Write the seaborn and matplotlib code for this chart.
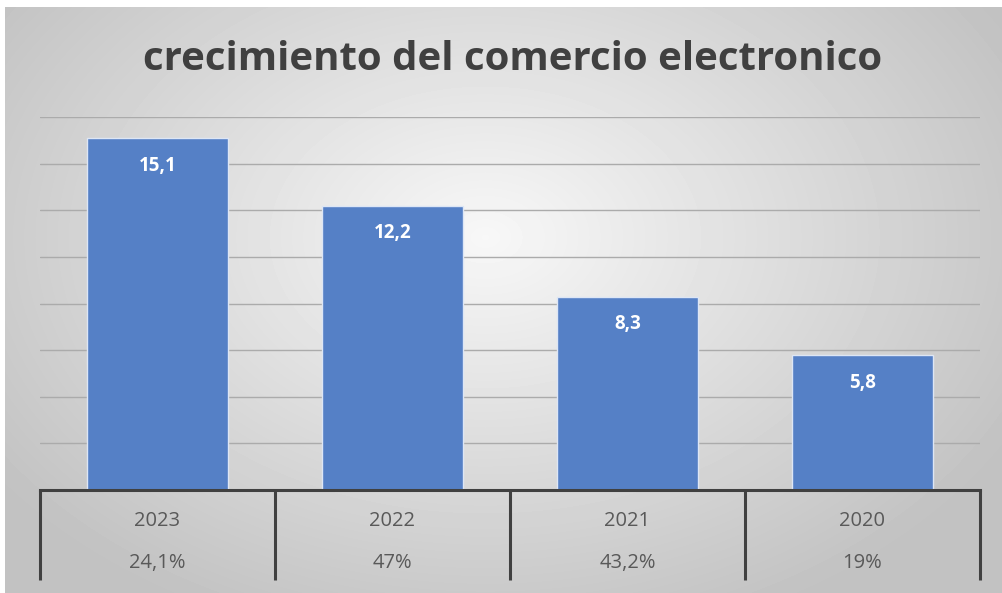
import numpy as np
import pandas as pd
import matplotlib.pyplot as plt
import matplotlib.transforms as mtransforms
import seaborn as sns

# Chart data
years = ["2023", "2022", "2021", "2020"]
values = [15.1, 12.2, 8.3, 5.8]
growth = ["24,1%", "47%", "43,2%", "19%"]

df = pd.DataFrame({"year": years, "value": values})

sns.set_style("white")
plt.rcParams["font.family"] = ["Open Sans", "DejaVu Sans"]

fig = plt.figure(figsize=(10.03, 5.93), dpi=100, facecolor="white")

# Radial gradient background like the Excel chart area
bg = fig.add_axes([5 / 1003, 0, 998 / 1003, 586 / 593])
h, w = 586, 998
yy, xx = np.mgrid[0:h, 0:w]
r = np.sqrt(((xx - 480) / 600) ** 2 + ((yy - 230) / 420) ** 2)
shade = np.clip(0.97 - 0.21 * r, 0.76, 0.97)
bg.imshow(shade, cmap="gray", vmin=0, vmax=1, aspect="auto", interpolation="bilinear")
bg.set_axis_off()

ax = fig.add_axes([40 / 1003, 103 / 593, 940 / 1003, 373 / 593])
ax.patch.set_alpha(0)

sns.barplot(data=df, x="year", y="value", color="#5580C6", width=0.6,
            saturation=1, edgecolor="#dde6f5", linewidth=1, ax=ax, zorder=3)

ax.set_ylim(0, 16)
ax.set_xlim(-0.5, len(years) - 0.5)
ax.set_yticks(range(2, 17, 2))
ax.yaxis.grid(True, color="#ababab", linewidth=1)
ax.set_axisbelow(True)
ax.tick_params(left=False, bottom=False, labelleft=False, labelbottom=False)
ax.set_xlabel("")
ax.set_ylabel("")
for side in ["top", "left", "right"]:
    ax.spines[side].set_visible(False)
ax.spines["bottom"].set_color("#404040")
ax.spines["bottom"].set_linewidth(2.2)
ax.spines["bottom"].set_zorder(5)

# value labels inside bars
for i, v in enumerate(values):
    ax.annotate(f"{v:.1f}".replace(".", ","), (i, v), xytext=(0, -20),
                textcoords="offset points", ha="center", va="center",
                color="white", fontsize=13.5, fontweight="bold", zorder=6)

# data table below the axis
trans = mtransforms.blended_transform_factory(ax.transData, ax.transAxes)
for xv in np.arange(-0.5, len(years), 1.0):
    ax.plot([xv, xv], [0, -0.241], transform=trans, color="#404040",
            linewidth=2.2, clip_on=False, solid_capstyle="butt")
for i, (yr, g) in enumerate(zip(years, growth)):
    ax.text(i, -0.083, yr, transform=trans, ha="center", va="center",
            fontsize=14.5, color="#595959")
    ax.text(i, -0.196, g, transform=trans, ha="center", va="center",
            fontsize=14.5, color="#595959")

fig.text(0.511, 0.9, "crecimiento del comercio electronico", ha="center",
         va="center", fontsize=29, fontweight="bold", color="#404040")

plt.savefig("out.png", dpi=100)
